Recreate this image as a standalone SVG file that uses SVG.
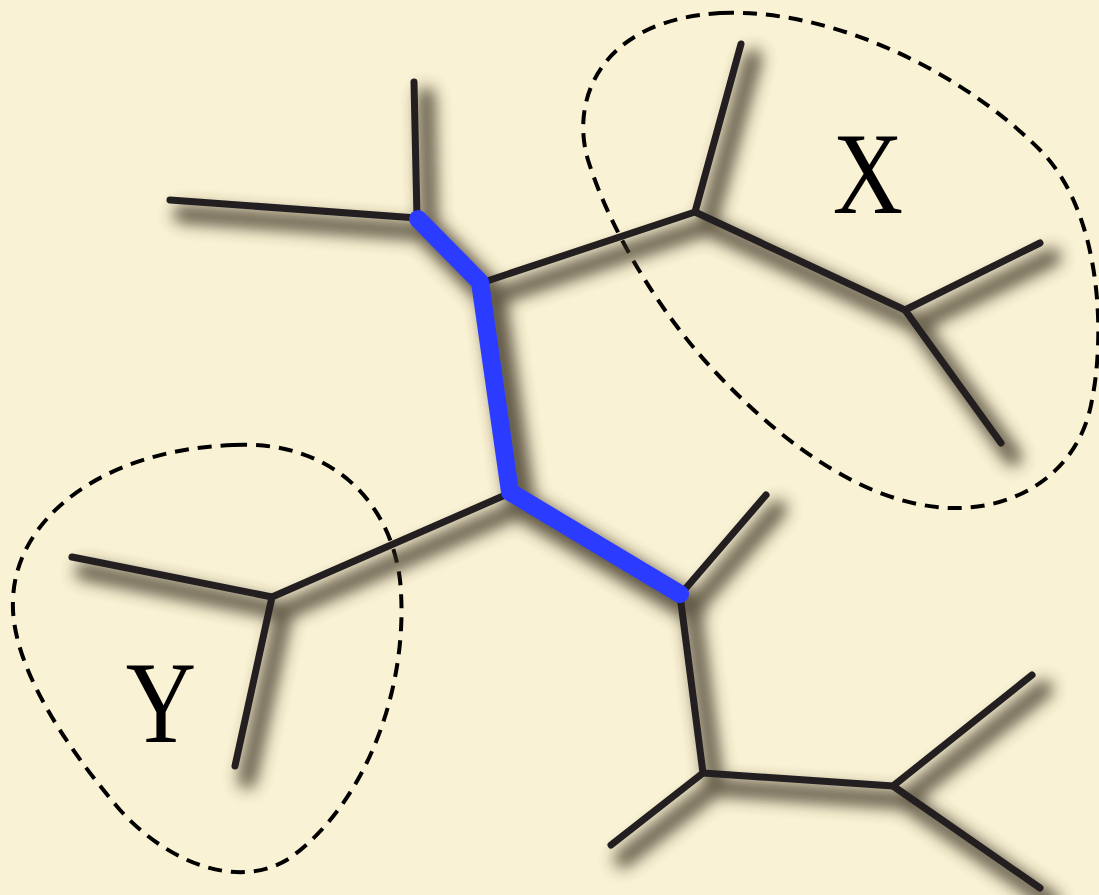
<svg xmlns="http://www.w3.org/2000/svg" width="1099" height="895" viewBox="0 0 1099 895">
<defs>
<filter id="blur" x="-20%" y="-20%" width="140%" height="140%">
<feGaussianBlur stdDeviation="8"/>
</filter>
<g id="tree">
<path d="M170,200 L417,218 L414,82"/>
<path d="M481,283 L695,212 L741,44"/>
<path d="M695,212 L905,310 L1040,243"/>
<path d="M905,310 L1001,443"/>
<path d="M510,493 L272,597 L72,557"/>
<path d="M272,597 L235,766"/>
<path d="M766,495 L680,595 L703,773 L611,845"/>
<path d="M703,773 L893,786 L1032,675"/>
<path d="M893,786 L1040,888"/>
</g>
<path id="hlpath" d="M418,219 L480,282 L510,492 L680,594"/>
<style>
.e{fill:none;stroke:#231f20;stroke-width:7;stroke-linecap:round;stroke-linejoin:round}
.hl{fill:none;stroke:#2b3bff;stroke-width:18;stroke-linecap:round;stroke-linejoin:round}
.sh{fill:none;stroke:#3a3220;stroke-linecap:round;stroke-linejoin:round}
.grp{fill:none;stroke:#000;stroke-width:4;stroke-dasharray:14 9}
.lbl{font-family:"Liberation Serif","Times New Roman",serif;font-size:116px;fill:#000}
</style>
</defs>
<rect width="1099" height="895" fill="#faf2d4"/>
<g id="groups">
<path id="group-X" class="grp" d="M720,13 C830,8 960,70 1040,150 C1100,210 1106,330 1092,400 C1080,470 1020,510 950,508 C870,505 790,450 720,377 C660,315 610,230 588,160 C570,100 600,20 720,13 Z"/>
<path id="group-Y" class="grp" d="M233,445 C330,440 390,500 400,580 C410,680 370,800 290,858 C240,890 170,865 120,810 C60,740 10,660 13,600 C15,520 100,450 233,445 Z"/>
</g>
<g id="shadow" filter="url(#blur)" opacity="0.8">
<g transform="translate(12,14)">
<use href="#tree" class="sh" stroke-width="18"/>
<use href="#hlpath" class="sh" stroke-width="28"/>
</g>
</g>
<g id="connectors">
<use href="#tree" class="e"/>
<use href="#hlpath" class="hl"/>
</g>
<g id="label-X"><text class="lbl" transform="translate(868,213) scale(0.84,1)" text-anchor="middle">X</text></g>
<g id="label-Y"><text class="lbl" transform="translate(161,742) scale(0.84,1)" text-anchor="middle">Y</text></g>
</svg>
